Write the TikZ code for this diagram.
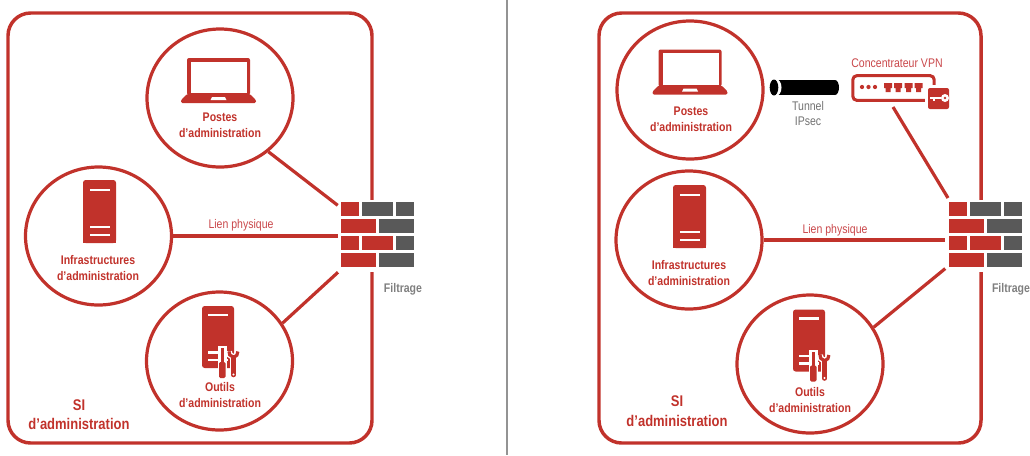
\documentclass[tikz,border=0pt]{standalone}
\usepackage{fontspec}
\setmainfont{Liberation Sans}[FakeStretch=0.84]
\usetikzlibrary{shapes.geometric}
\definecolor{cred}{HTML}{C1322B}
\definecolor{lred}{HTML}{C9474A}
\definecolor{cgray}{HTML}{595959}
\definecolor{tgray}{HTML}{7F7F7F}
\newcommand{\lapicon}{%
  \fill[cred,rounded corners=1.5pt] (187,58) rectangle (250,95);
  \fill[white] (191,61.5) rectangle (247,93);
  \fill[cred,rounded corners=1pt] (187,94) -- (250,94) -- (256,100) -- (256,103) -- (181,103) -- (181,100) -- cycle;
  \fill[white] (212,97) -- (225,97) -- (226.5,100) -- (210.5,100) -- cycle;
}
\newcommand{\srvicon}{%
  \fill[cred,rounded corners=2pt] (83,180) -- (116,180) -- (116,243) -- (83,243) -- cycle;
  \fill[cred] (83,235) rectangle (116,243);
  \fill[white] (90,188.5) rectangle (110,191);
  \fill[white] (90,225.5) rectangle (110,228);
  \fill[white] (90,233.5) rectangle (110,236);
}
\newcommand{\outicon}{%
  \fill[cred,rounded corners=2pt] (202,306) -- (234,306) -- (234,368) -- (202,368) -- cycle;
  \fill[white] (208,313.5) rectangle (228,316);
  \fill[white] (208,351) rectangle (228,353.5);
  \fill[white] (208,358.5) rectangle (228,361);
  % screwdriver
  \fill[white] (217.5,346) rectangle (227,380);
  \fill[cred] (220.5,348) rectangle (223.5,362);
  \fill[cred,rounded corners=1pt] (219,362) rectangle (225.5,378);
  % wrench
  \draw[white,line width=5.5pt,line cap=round] (233.5,358) -- (233.5,375);
  \draw[white,line width=4.5pt] (229,351.5) arc[start angle=190,end angle=-10,radius=4.5];
  \draw[cred,line width=3.4pt,line cap=round] (233.5,358) -- (233.5,375);
  \draw[cred,line width=2.4pt] (229,351.5) arc[start angle=190,end angle=-10,radius=4.5];
  \fill[white] (233.5,374.5) circle (0.9pt);
}
\newcommand{\bricks}{%
  \fill[cred] (341,202) rectangle (359,216);
  \fill[cgray] (362,202) rectangle (393,216);
  \fill[cgray] (396,202) rectangle (414,216);
  \fill[cred] (341,219) rectangle (376,233);
  \fill[cgray] (379,219) rectangle (414,233);
  \fill[cred] (341,236) rectangle (359,250);
  \fill[cred] (362,236) rectangle (393,250);
  \fill[cgray] (396,236) rectangle (414,250);
  \fill[cred] (341,253) rectangle (376,267);
  \fill[cgray] (379,253) rectangle (414,267);
}
\tikzset{
  x=0.75pt,y=-0.75pt,
  frame/.style={draw=cred,line width=2.6pt,rounded corners=17pt,inner sep=0pt,minimum height=322.5pt},
  circ/.style={ellipse,draw=cred,line width=2.4pt,minimum width=109.5pt,minimum height=103.5pt,inner sep=0pt},
  fwall/.style={fill=white,inner sep=0pt,minimum width=59.25pt,minimum height=54pt},
  link/.style={draw=cred,line width=2.4pt},
  lab/.style={text=cred,font=\fontsize{9.4}{12}\selectfont\bfseries,align=center,inner sep=0pt},
  silab/.style={text=cred,font=\fontsize{11.6}{14.6}\selectfont\bfseries,align=center,inner sep=0pt},
  thin label/.style={text=lred,font=\fontsize{9.4}{11.5}\selectfont,align=center,inner sep=0pt},
  gray label/.style={text=tgray!90!black,font=\fontsize{9.4}{11.5}\selectfont,align=center,inner sep=0pt},
  filt/.style={text=tgray,font=\fontsize{9.4}{12}\selectfont\bfseries,inner sep=0pt},
}
\begin{document}
\begin{tikzpicture}
\useasboundingbox (0,0) rectangle (1030,455);
\coordinate (septop) at (507,0);
\coordinate (sepbot) at (507,455);
\draw[color=gray!85,line width=1.9pt] (septop) -- (sepbot);
% ---- left
\node[frame,minimum width=273pt] (siL) at (190,228) {};
\node[circ] (postL) at (220,98) {};
\node[circ] (infraL) at (98.5,236) {};
\node[circ] (outL) at (219.5,361) {};
\node[fwall] (fwL) at (377.5,236) {};
\draw[link] (postL.-48) -- (fwL);
\draw[link] (infraL.east) -- (fwL);
\draw[link] (outL.31) -- (fwL);
\bricks
\lapicon
\srvicon
\outicon
\node[lab] (tpostL) at (220,125.5) {Postes\\d’administration};
\node[lab] (tinfraL) at (98,268.5) {Infrastructures\\d’administration};
\node[lab] (toutL) at (220,395.5) {Outils\\d’administration};
\node[thin label] (lienL) at (241,225) {Lien physique};
\node[filt] (filtL) at (403,289) {Filtrage};
\node[silab] (siTL) at (79,414.5) {SI\\d’administration};
% ---- right
\node[frame,minimum width=286.5pt] (siR) at (790,228) {};
\node[circ] (postR) at (690,90) {};
\node[circ] (infraR) at (689,240) {};
\node[circ] (outR) at (810,364) {};
\node[fwall] (fwR) at (985,236) {};
\coordinate (vpnout) at (893,107);
\coordinate (fwtop) at (948,198);
\draw[link] (infraR.east) -- (infraR.east -| fwR.west);
\draw[link] (outR.30) -- (fwR);
\draw[link] (vpnout) -- (fwtop);
\begin{scope}[shift={(608,0)}]\bricks\end{scope}
\begin{scope}[shift={(471.5,-8.5)}]\lapicon\end{scope}
\begin{scope}[shift={(590,5)}]\srvicon\end{scope}
\begin{scope}[shift={(591,3.5)}]\outicon\end{scope}
% tunnel
\fill[black] (776,80) rectangle (835,95);
\fill[black] (835,87.5) ellipse[x radius=4,y radius=7.5];
\fill[white] (775.5,87.5) ellipse[x radius=6,y radius=8.8];
\fill[black] (774,87.5) ellipse[x radius=4.3,y radius=8];
% VPN box
\node[draw=cred,line width=2.3pt,rounded corners=3pt,minimum width=61pt,minimum height=18.5pt,inner sep=0pt] (vpn) at (893.5,88) {};
\foreach \dx in {862,868.5,875}{\fill[cred] (\dx,87) circle (1.6pt);}
\foreach \dx in {884,894,904.5,914.5}{
  \fill[cred] (\dx,83) rectangle ++(8,5) (\dx+1.5,88) rectangle ++(5,4);}
\fill[white] (925,85) rectangle (951,111);
\fill[cred,rounded corners=1.5pt] (928,88) rectangle (949,109);
\fill[white] (930,97) rectangle (941,99);
\fill[white] (933,99) rectangle (935,100.5);
\fill[white] (945,98) circle (3pt);
\fill[cred] (945,98) circle (1pt);
\node[lab] (tpostR) at (691,119) {Postes\\d’administration};
\node[lab] (tinfraR) at (689,273) {Infrastructures\\d’administration};
\node[lab] (toutR) at (810,400) {Outils\\d’administration};
\node[thin label] (lienR) at (835,230) {Lien physique};
\node[filt] (filtR) at (1011,289) {Filtrage};
\node[silab] (siTR) at (677,411) {SI\\d’administration};
\node[thin label] (conc) at (897,63) {Concentrateur VPN};
\node[gray label] (tun) at (808,113.5) {Tunnel\\IPsec};
\end{tikzpicture}
\end{document}
